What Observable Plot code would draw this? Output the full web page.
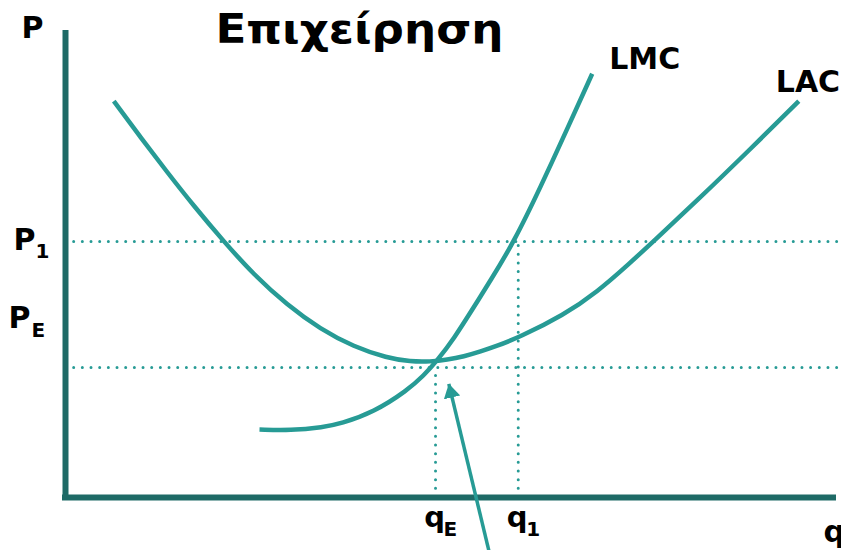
<!DOCTYPE html>
<html>
<head>
<meta charset="utf-8">
<script src="https://cdn.jsdelivr.net/npm/d3@7"></script>
<script src="https://cdn.jsdelivr.net/npm/@observablehq/plot@0.6"></script>
<style>
  html, body { margin: 0; padding: 0; background: #ffffff; }
  #chart svg { display: block; }
</style>
</head>
<body>
<div id="chart"></div>
<script>
// ---- Data ----
const title = "Επιχείρηση";
const axisLabelY = "P";
const axisLabelX = "q";

// LAC (long-run average cost) curve
const lacQ = [6.29, 9.77, 13.24, 16.71, 20.61, 24.52, 28.87, 33.20, 37.54, 41.89, 44.92, 47.53, 49.70, 51.86, 54.04, 56.21, 58.95, 64.88, 69.23, 73.57, 76.39, 82.25, 88.76, 95.48];
const lacP = [84.86, 77.15, 69.66, 62.42, 54.82, 47.71, 41.20, 36.04, 32.25, 29.87, 29.08, 29.08, 29.49, 30.19, 31.26, 32.48, 34.20, 39.08, 44.00, 50.32, 54.60, 63.60, 73.94, 84.86];

// LMC (long-run marginal cost) curve
const lmcQ = [25.26, 29.30, 33.59, 35.81, 40.14, 44.49, 46.65, 48.40, 50.56, 53.16, 55.34, 58.37, 61.85, 65.33, 68.58];
const lmcP = [14.56, 14.35, 15.05, 15.78, 18.27, 22.91, 26.12, 29.34, 33.98, 40.75, 46.47, 54.67, 66.45, 78.95, 90.73];

// Reference levels
const priceLevels = [54.82, 27.84];          // P1 line, equilibrium line
const quantityLevels = [48.18, 58.95];       // qE, q1
const quantityTops = [27.84, 54.82];         // where the vertical guides stop

// Tick labels
const priceTickMain = ["P", "P"];
const priceTickSub = ["1", "E"];
const priceTickAt = [54.82, 38.4];
const qTickMain = ["q", "q"];
const qTickSub = ["E", "1"];

// Arrow pointing at the equilibrium
const arrowFrom = [55.12, -11.35];
const arrowTo = [49.91, 24.35];

// ---- Build tables ----
const lac = lacQ.map((q, i) => ({q, p: lacP[i]}));
const lmc = lmcQ.map((q, i) => ({q, p: lmcP[i]}));
const hLines = priceLevels.map(p => ({p}));
const vLines = quantityLevels.map((q, i) => ({q, top: quantityTops[i]}));
const arrow = [{x1: arrowFrom[0], y1: arrowFrom[1], x2: arrowTo[0], y2: arrowTo[1]}];

const curveColor = "#279b95";
const axisColor = "#1e6a66";
const font = "DejaVu Sans";

function filledArrow(color) {
  const m = d3.create("svg:marker")
    .attr("viewBox", "-10 -6 10 12")
    .attr("markerWidth", 4)
    .attr("markerHeight", 4.8)
    .attr("orient", "auto")
    .attr("fill", color)
    .attr("stroke", "none");
  m.append("path").attr("d", "M-10,-6L0,0L-10,6Z");
  return m.node();
}

const dotted = {stroke: curveColor, strokeWidth: 3, strokeDasharray: "0 8.67", strokeLinecap: "round"};
const bold = {fontWeight: "bold", fill: "black"};

const chart = Plot.plot({
  width: 841,
  height: 550,
  marginLeft: 65,
  marginRight: 8,
  marginTop: 30,
  marginBottom: 53,
  x: {domain: [0, 100], axis: null},
  y: {domain: [0, 100], axis: null},
  style: {background: "#ffffff", fontFamily: font, overflow: "visible"},
  marks: [
    // dotted guides
    Plot.ruleY(hLines, {y: "p", x1: 0, x2: 101.1, ...dotted}),
    Plot.ruleX(vLines, {x: "q", y1: 0, y2: "top", ...dotted}),
    // axes
    Plot.ruleX([0], {y1: 0, y2: 100, stroke: axisColor, strokeWidth: 6}),
    Plot.ruleY([0], {x1: 0, x2: 100, stroke: axisColor, strokeWidth: 6, strokeLinecap: "square"}),
    // curves
    Plot.line(lac, {x: "q", y: "p", curve: "basis", stroke: curveColor, strokeWidth: 4.5, strokeLinecap: "butt"}),
    Plot.line(lmc, {x: "q", y: "p", curve: "basis", stroke: curveColor, strokeWidth: 4.5, strokeLinecap: "butt"}),
    // arrow
    Plot.link(arrow, {x1: "x1", y1: "y1", x2: "x2", y2: "y2", stroke: curveColor, strokeWidth: 3.5, markerEnd: filledArrow}),
    // curve labels
    Plot.text([lmc[lmc.length - 1]], {x: "q", y: "p", text: () => "LMC", textAnchor: "start", lineAnchor: "bottom", dx: 17, dy: -5, fontSize: 30, ...bold}),
    Plot.text([lac[lac.length - 1]], {x: "q", y: "p", text: () => "LAC", textAnchor: "start", lineAnchor: "bottom", dx: -23, dy: -9, fontSize: 30, ...bold}),
    // title
    Plot.text([title], {frameAnchor: "top", text: d => d, lineAnchor: "bottom", dx: -90, dy: 12, fontSize: 40, ...bold}),
    // axis labels
    Plot.text([axisLabelY], {frameAnchor: "top-left", text: d => d, textAnchor: "start", lineAnchor: "bottom", dx: -44, dy: 7, fontSize: 30, ...bold}),
    Plot.text([axisLabelX], {frameAnchor: "bottom-right", text: d => d, textAnchor: "start", lineAnchor: "bottom", dx: -10, dy: 44, fontSize: 30, ...bold}),
    // price tick labels
    Plot.text([0], {x: 0, y: priceTickAt[0], text: () => priceTickMain[0], textAnchor: "end", lineAnchor: "bottom", dx: -30, dy: 9, fontSize: 30, ...bold}),
    Plot.text([0], {x: 0, y: priceTickAt[0], text: () => priceTickSub[0], textAnchor: "start", lineAnchor: "bottom", dx: -30, dy: 17, fontSize: 20, ...bold}),
    Plot.text([1], {x: 0, y: priceTickAt[1], text: () => priceTickMain[1], textAnchor: "end", lineAnchor: "bottom", dx: -35, dy: 10, fontSize: 30, ...bold}),
    Plot.text([1], {x: 0, y: priceTickAt[1], text: () => priceTickSub[1], textAnchor: "start", lineAnchor: "bottom", dx: -34, dy: 19, fontSize: 20, ...bold}),
    // quantity tick labels
    Plot.text(quantityLevels, {x: d => d, y: 0, text: (d, i) => qTickMain[i], textAnchor: "middle", lineAnchor: "bottom", dx: -1, dy: 29, fontSize: 29, ...bold}),
    Plot.text(quantityLevels, {x: d => d, y: 0, text: (d, i) => qTickSub[i], textAnchor: "start", lineAnchor: "bottom", dx: 8, dy: 38, fontSize: 20, ...bold})
  ]
});

// stretch the title's glyphs to the reference width
d3.select(chart).selectAll("text").filter(function () { return this.textContent === title; })
  .attr("textLength", 288)
  .attr("lengthAdjust", "spacingAndGlyphs");

document.getElementById("chart").appendChild(chart);
</script>
</body>
</html>
